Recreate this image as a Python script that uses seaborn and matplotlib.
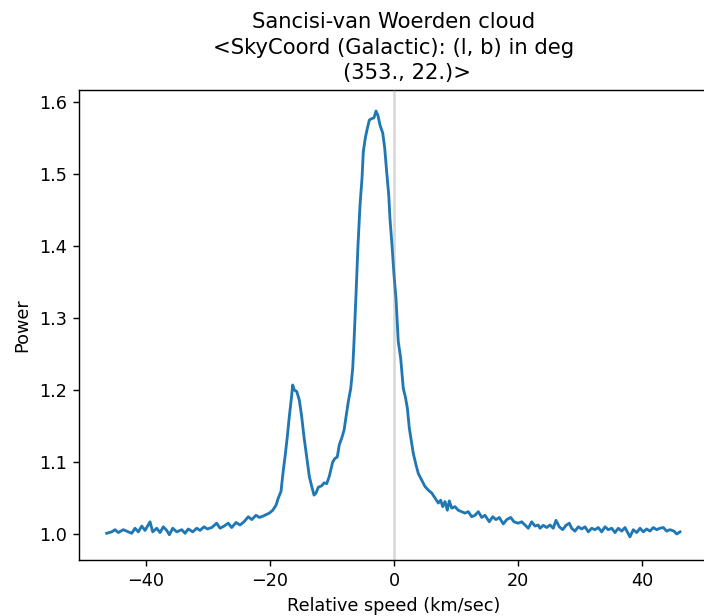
import numpy as np
import pandas as pd
import matplotlib
matplotlib.use("Agg")
import matplotlib.pyplot as plt
import seaborn as sns

title = "Sancisi-van Woerden cloud\n<SkyCoord (Galactic): (l, b) in deg\n    (353., 22.)>"
x_label = "Relative speed (km/sec)"
y_label = "Power"

velocity = [
    -46.34, -45.53, -45.00, -44.47, -43.66, -42.85, -42.31, -41.77, -41.24, -40.69,
    -40.16, -39.35, -38.92, -38.27, -37.74, -37.21, -36.66, -36.24, -35.69, -35.05,
    -34.24, -33.71, -33.18, -32.47, -31.82, -31.29, -30.65, -30.11, -29.40, -28.60,
    -28.06, -27.42, -26.73, -26.18, -25.48, -24.84, -24.19, -23.50, -22.95, -22.26,
    -21.73, -21.08,
    -20.11, -19.56, -19.03, -18.66, -18.23, -17.85, -17.58, -17.21, -16.89, -16.56,
    -16.34, -16.08, -15.69, -15.27, -14.89, -14.52, -14.08, -13.66, -13.27, -12.90,
    -12.58, -12.21, -11.66, -11.29, -10.85, -10.44,
    -9.89, -9.52, -9.15, -8.82, -8.44, -8.06, -7.74, -7.37, -6.98, -6.66,
    -6.45, -6.13, -5.81, -5.48, -5.16, -4.95, -4.63, -4.31, -3.98, -3.60,
    -3.23, -2.90, -2.58, -2.26, -1.82, -1.50, -1.18, -0.85, -0.65, -0.32,
    0.00, 0.32, 0.69, 1.08, 1.50, 1.82, 2.15, 2.47,
    2.69, 3.11, 3.55, 3.92, 4.47, 5.00, 5.53, 6.08, 6.61, 7.15,
    7.53, 7.85, 8.23, 8.60, 8.92, 9.31, 9.84, 10.37, 10.92, 11.45,
    11.98, 12.53, 13.06, 13.60, 14.15, 14.68, 15.37, 15.92, 16.45, 16.98,
    17.63, 18.18, 18.82, 19.35, 20.05, 20.60, 21.13, 21.66, 22.21, 22.74,
    23.27,
    23.55, 24.08, 24.63, 25.16, 25.69, 26.13, 26.66, 27.21, 27.74, 28.27,
    28.66, 29.19, 29.73, 30.27, 30.81, 31.34, 31.89, 32.42, 32.95, 33.50,
    34.03, 34.56, 35.11, 35.65, 36.18, 36.73, 37.26, 38.06, 38.60, 39.15,
    39.68, 40.21, 40.76, 41.29, 41.82, 42.37, 42.90, 43.44, 43.98, 44.52,
    45.16, 45.60, 46.13,
]

power = [
    1.001, 1.003, 1.006, 1.002, 1.006, 1.003, 1.001, 1.008, 1.003, 1.011,
    1.005, 1.017, 1.003, 1.008, 1.002, 1.010, 1.005, 0.999, 1.008, 1.003,
    1.006, 1.001, 1.007, 1.003, 1.008, 1.005, 1.010, 1.007, 1.009, 1.015,
    1.008, 1.011, 1.015, 1.009, 1.016, 1.0125, 1.017, 1.024, 1.020, 1.026,
    1.023, 1.025,
    1.029, 1.033, 1.040, 1.050, 1.059, 1.089, 1.107, 1.135, 1.163, 1.188,
    1.207, 1.200, 1.198, 1.186, 1.163, 1.135, 1.107, 1.080, 1.066, 1.054,
    1.057, 1.065, 1.067, 1.071, 1.070, 1.080,
    1.100, 1.105, 1.107, 1.124, 1.133, 1.144, 1.163, 1.184, 1.202, 1.230,
    1.267, 1.332, 1.401, 1.457, 1.494, 1.531, 1.550, 1.563, 1.575, 1.577,
    1.578, 1.5875, 1.581, 1.568, 1.557, 1.536, 1.503, 1.471, 1.438, 1.401,
    1.360, 1.327, 1.267, 1.244, 1.202, 1.191, 1.175, 1.147,
    1.135, 1.112, 1.096, 1.084, 1.075, 1.066, 1.061, 1.057, 1.050, 1.043,
    1.047, 1.038, 1.045, 1.033, 1.046, 1.036, 1.038, 1.033, 1.031, 1.029,
    1.031, 1.024, 1.026, 1.031, 1.023, 1.026, 1.017, 1.024, 1.020, 1.023,
    1.014, 1.020, 1.023, 1.017, 1.015, 1.017, 1.0125, 1.008, 1.017, 1.011,
    1.0125,
    1.008, 1.012, 1.009, 1.0125, 1.008, 1.019, 1.010, 1.006, 1.012, 1.015,
    1.008, 1.004, 1.010, 1.007, 1.010, 1.003, 1.008, 1.006, 1.009, 1.003,
    1.010, 1.006, 1.008, 1.002, 1.008, 1.004, 1.009, 0.996, 1.006, 1.002,
    1.008, 1.003, 1.007, 1.004, 1.009, 1.006, 1.008, 1.009, 1.004, 1.006,
    1.004, 1.000, 1.003,
]

df = pd.DataFrame({"velocity": velocity, "power": power})

W, H, DPI = 704, 616, 127
fig = plt.figure(figsize=(W / DPI, H / DPI), dpi=DPI)
ax = fig.add_axes([79 / W, (H - 560) / H, 630 / W, 470 / H])

sns.lineplot(data=df, x="velocity", y="power", ax=ax, color="#1f77b4",
             linewidth=1.6, sort=False, estimator=None)
ax.axvline(0, color="gray", alpha=0.3, linewidth=1.5, zorder=3)

ax.set_xlim(-50.81, 50.81)
ax.set_ylim(0.9639, 1.6167)
ax.set_xticks([-40, -20, 0, 20, 40])
ax.set_yticks([1.0, 1.1, 1.2, 1.3, 1.4, 1.5, 1.6])
ax.set_xlabel(x_label)
ax.set_ylabel(y_label)
ax.set_title(title, linespacing=1.35)

fig.savefig("out.png", dpi=DPI)
